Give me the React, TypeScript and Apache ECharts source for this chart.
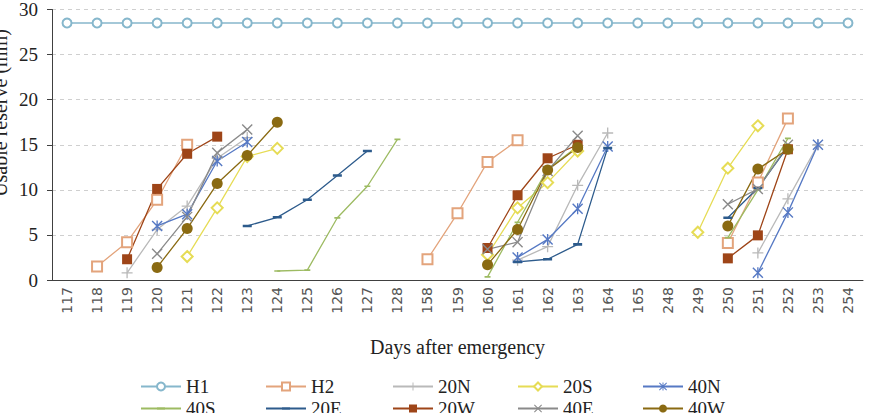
import React, { useEffect, useRef } from 'react';
import * as echarts from 'echarts';

const _ = null;

// Days after emergency (three observation windows)
const days = [
  '117', '118', '119', '120', '121', '122', '123', '124', '125', '126', '127', '128',
  '158', '159', '160', '161', '162', '163', '164', '165',
  '248', '249', '250', '251', '252', '253', '254',
];

const yTicks = { min: 0, max: 30, interval: 5 };

const H1 = days.map(() => 28.5);
const H2 = [_, 1.5, 4.2, 8.9, 15.0, _, _, _, _, _, _, _, 2.3, 7.4, 13.1, 15.5, _, _, _, _, _, _, 4.1, 10.8, 17.9, _, _];
const N20 = [_, _, 0.8, 5.6, 8.2, 13.5, 15.8, _, _, _, _, _, _, _, _, 2.2, 3.7, 10.5, 16.3, _, _, _, _, 3.0, 9.0, 15.0, _];
const S20 = [_, _, _, _, 2.6, 8.0, 13.7, 14.6, _, _, _, _, _, _, 2.8, 8.0, 10.8, 14.3, _, _, _, 5.3, 12.4, 17.1, _, _, _];
const N40 = [_, _, _, 6.0, 7.3, 13.2, 15.3, _, _, _, _, _, _, _, _, 2.5, 4.5, 7.9, 14.8, _, _, _, _, 0.8, 7.5, 15.0, _];
const S40 = [_, _, _, _, _, _, _, 1.0, 1.1, 6.9, 10.4, 15.6, _, _, 0.35, 6.4, 12.3, 14.8, _, _, _, _, 4.7, 10.0, 15.7, _, _];
const E20 = [_, _, _, _, _, _, 6.0, 6.95, 8.9, 11.6, 14.3, _, _, _, _, 2.0, 2.3, 3.95, 14.65, _, _, _, 6.9, 10.2, 14.8, _, _];
const W20 = [_, _, 2.3, 10.1, 14.0, 15.9, _, _, _, _, _, _, _, _, 3.55, 9.4, 13.5, 15.0, _, _, _, _, 2.4, 4.95, 14.5, _, _];
const E40 = [_, _, _, 2.9, 7.0, 14.1, 16.7, _, _, _, _, _, _, _, 3.4, 4.2, 12.1, 16.0, _, _, _, _, 8.4, 10.1, 15.0, _, _];
const W40 = [_, _, _, 1.4, 5.7, 10.7, 13.8, 17.5, _, _, _, _, _, _, 1.7, 5.6, 12.2, 14.7, _, _, _, _, 6.0, 12.3, 14.5, _, _];

// Marker outlines; the dash keeps a square bounding box (tiny corner points) so it stays a flat bar
const PLUS = 'path://M4.4,0h1.2v10h-1.2z M0,4.4h10v1.2h-10z';
const CROSS = 'path://M0,0.9L0.9,0L10,9.1L9.1,10Z M9.1,0L10,0.9L0.9,10L0,9.1Z';
const STAR = 'path://M0,0.9L0.9,0L10,9.1L9.1,10Z M9.1,0L10,0.9L0.9,10L0,9.1Z M4.4,0h1.2v10h-1.2z';
const DASH = 'path://M0,0L0.001,0L0.001,0.001Z M9.999,9.999L10,9.999L10,10Z M0,3.6h10v2.8h-10z';

type Def = { name: string; data: (number | null)[]; color: string; symbol: string; size: number; width?: number; hollow?: boolean };

const defs: Def[] = [
  { name: 'H1', data: H1, color: '#86b7cc', symbol: 'emptyCircle', size: 9, width: 1.6, hollow: true },
  { name: 'H2', data: H2, color: '#e3a47c', symbol: 'emptyRect', size: 10, hollow: true },
  { name: '20N', data: N20, color: '#b9b9b9', symbol: PLUS, size: 11 },
  { name: '20S', data: S20, color: '#e6dc55', symbol: 'emptyDiamond', size: 11, hollow: true },
  { name: '40N', data: N40, color: '#5679c4', symbol: STAR, size: 11 },
  { name: '40S', data: S40, color: '#9dbb62', symbol: DASH, size: 6 },
  { name: '20E', data: E20, color: '#2d5b8c', symbol: DASH, size: 9 },
  { name: '20W', data: W20, color: '#9e4518', symbol: 'rect', size: 10 },
  { name: '40E', data: E40, color: '#8a8a8a', symbol: CROSS, size: 11 },
  { name: '40W', data: W40, color: '#8a6a12', symbol: 'circle', size: 11 },
];

const legendCols = [140, 265, 392, 517, 642];
const legendRows = [377, 399];

const serif = 'Liberation Serif';

export default function App() {
  const ref = useRef<HTMLDivElement>(null);

  useEffect(() => {
    if (!ref.current) return;
    const chart = echarts.init(ref.current, null, { renderer: 'svg' });

    const series = defs.map((d) => ({
      name: d.name,
      type: 'line',
      data: d.data,
      symbol: d.symbol,
      symbolSize: d.size,
      showAllSymbol: true,
      connectNulls: false,
      color: d.color,
      lineStyle: { color: d.color, width: d.width ?? 1.3 },
      itemStyle: d.hollow
        ? { color: d.color, borderColor: d.color, borderWidth: 1.2 }
        : { color: d.color, borderWidth: 0 },
      emphasis: { disabled: true },
    }));

    const legends = defs.map((d, i) => ({
      data: [d.name],
      left: legendCols[i % 5],
      top: legendRows[Math.floor(i / 5)],
      padding: 0,
      itemGap: 0,
      itemWidth: 40,
      itemHeight: 10,
      selectedMode: false,
      textStyle: { fontFamily: serif, fontSize: 19, color: '#222' },
    }));

    chart.setOption({
      animation: false,
      backgroundColor: '#ffffff',
      grid: { left: 52, right: 8, top: 7, bottom: 133 },
      legend: legends,
      xAxis: {
        type: 'category',
        data: days,
        boundaryGap: true,
        name: 'Days after emergency',
        nameLocation: 'middle',
        nameGap: 57,
        nameTextStyle: { fontFamily: serif, fontSize: 20, color: '#222' },
        axisLine: { lineStyle: { color: '#404040', width: 1 } },
        axisTick: { alignWithLabel: true, length: 5, lineStyle: { color: '#404040' } },
        axisLabel: {
          interval: 0,
          rotate: 90,
          margin: 7,
          fontFamily: 'DejaVu Sans',
          fontSize: 14,
          color: '#555',
        },
        splitLine: { show: false },
      },
      yAxis: {
        type: 'value',
        min: yTicks.min,
        max: yTicks.max,
        interval: yTicks.interval,
        axisLine: { show: true, lineStyle: { color: '#404040', width: 1 } },
        axisTick: { show: true, length: 5, lineStyle: { color: '#404040' } },
        axisLabel: { margin: 14, fontFamily: serif, fontSize: 19, color: '#222' },
        splitLine: { show: true, lineStyle: { color: '#cfcfcf', type: [4, 4], width: 1 } },
      },
      graphic: [
        {
          type: 'text',
          x: 10,
          y: 113,
          rotation: Math.PI / 2,
          style: {
            text: 'Usable reserve (mm)',
            fontFamily: serif,
            fontSize: 20,
            fill: '#222',
            textAlign: 'center',
            textVerticalAlign: 'bottom',
          },
        },
      ],
      series,
    });

    return () => chart.dispose();
  }, []);

  return (
    <div
      ref={ref}
      style={{ position: 'absolute', left: 0, top: 0, width: 871, height: 413 }}
    />
  );
}
